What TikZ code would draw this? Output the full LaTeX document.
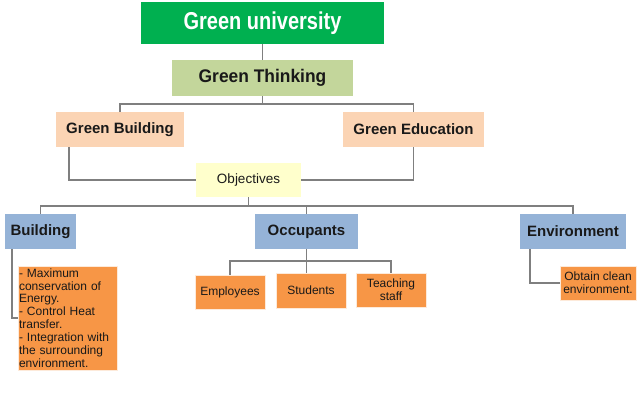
\documentclass[tikz,border=0pt]{standalone}
\usepackage{fontspec}
\usepackage{graphicx}
\setmainfont{Liberation Sans}
\definecolor{gugreen}{HTML}{00B050}
\definecolor{gtgreen}{HTML}{C3D69B}
\definecolor{peach}{HTML}{FBD4B4}
\definecolor{lyellow}{HTML}{FFFFCC}
\definecolor{lblue}{HTML}{95B3D7}
\definecolor{orng}{HTML}{F79646}
\definecolor{lgray}{HTML}{7F7F7F}
\begin{document}
\begin{tikzpicture}[x=1pt,y=-1pt,
  box/.style={inner sep=0pt,outer sep=0pt,align=center,text=black!90},
  conn/.style={draw=lgray,line width=1.2pt},
  small/.style={box,fill=orng,draw=white!80!orng,line width=0.6pt,font=\fontsize{12}{12.9}\selectfont}]
\useasboundingbox[fill=white] (0,0) rectangle (644,404);
\node[box,fill=gugreen,text=white,minimum width=243pt,minimum height=42pt,font=\fontsize{20}{24}\selectfont\bfseries] (gu) at (262.5,23) {\scalebox{1}[1.22]{Green university}};
\node[box,fill=gtgreen,minimum width=181pt,minimum height=36pt,font=\fontsize{17.4}{20}\selectfont\bfseries] (gt) at (262.5,78) {\scalebox{1}[1.05]{Green Thinking}};
\node[box,fill=peach,minimum width=128pt,minimum height=35pt,font=\fontsize{15}{18}\selectfont\bfseries] (gb) at (120,129.5) {Green Building};
\node[box,fill=peach,minimum width=141pt,minimum height=35pt,font=\fontsize{15}{18}\selectfont\bfseries] (ge) at (413.5,129.5) {Green Education};
\node[box,fill=lyellow,minimum width=105pt,minimum height=34pt,font=\fontsize{13.5}{16}\selectfont] (obj) at (248.5,180) {Objectives};
\node[box,fill=lblue,minimum width=71pt,minimum height=35pt,font=\fontsize{15}{18}\selectfont\bfseries] (bld) at (40.5,231.5) {Building};
\node[box,fill=lblue,minimum width=103pt,minimum height=35pt,font=\fontsize{15}{18}\selectfont\bfseries] (occ) at (306.5,231.5) {Occupants};
\node[box,fill=lblue,minimum width=106pt,minimum height=35pt,font=\fontsize{15}{18}\selectfont\bfseries] (env) at (573,231.5) {Environment};
\node[small,inner xsep=1pt,minimum height=104pt,text width=97pt,align=left] (bdet) at (67.5,318) {- Maximum\\conservation of\\Energy.\\- Control Heat\\transfer.\\- Integration with\\the surrounding\\environment.};
\node[small,minimum width=70pt,minimum height=34pt] (emp) at (230,292) {Employees};
\node[small,minimum width=70pt,minimum height=35pt] (stu) at (311,290.5) {Students};
\node[small,minimum width=70pt,minimum height=34pt] (tea) at (391,290) {Teaching\\staff};
\node[small,minimum width=76pt,minimum height=34pt] (obt) at (598,283) {Obtain clean\\environment.};
% connectors
\draw[conn] (gu.south) -- (gt.north);
\draw[conn] (gt.south) -- ++(0,8) coordinate (h1);
\draw[conn] (h1) -| (gb.north);
\draw[conn] (h1) -| (ge.north);
\draw[conn] ([xshift=13pt]gb.south west) |- (obj.west);
\draw[conn] (ge.south) |- (obj.east);
\draw[conn] (obj.south) -- ++(0,9) coordinate (h2);
\draw[conn] (h2) -| (bld.north);
\draw[conn] (h2) -| (env.north);
\draw[conn] (h2) -| (occ.north);
\draw[conn] ([xshift=7pt]bld.south west) |- (bdet.west);
\draw[conn] (occ.south) -- ++(0,12) coordinate (h3);
\draw[conn] (h3) -| (emp.north);
\draw[conn] (h3) -| (tea.north);
\draw[conn] (h3) -- (h3 |- stu.north);
\draw[conn] ([xshift=10pt]env.south west) |- (obt.west);
\end{tikzpicture}
\end{document}
